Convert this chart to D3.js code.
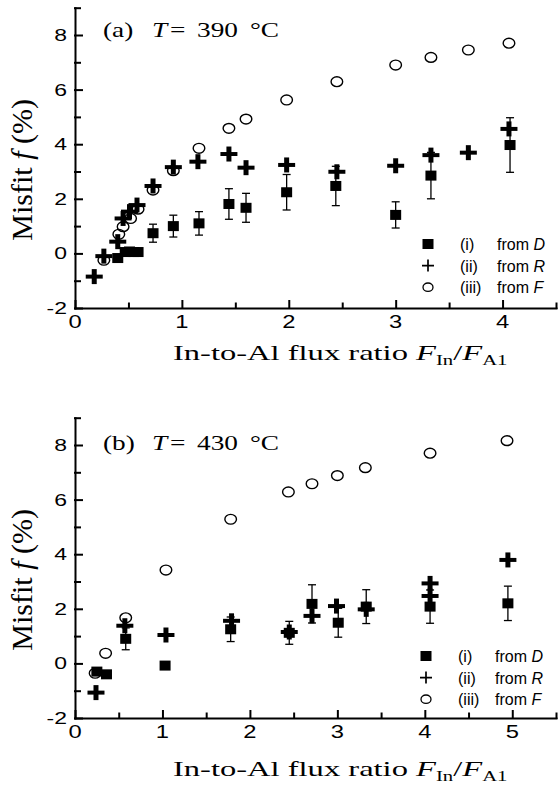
<!DOCTYPE html>
<html>
<head>
<meta charset="utf-8">
<script src="https://cdn.jsdelivr.net/npm/d3@7"></script>
<style>
  body { margin: 0; background: #fff; }
  svg { display: block; }
</style>
</head>
<body>
<div id="chart"></div>
<script>
// ---- data ----
const tickYLabels = [-2, 0, 2, 4, 6, 8];
const tickXLabelsA = [0, 1, 2, 3, 4];
const tickXLabelsB = [0, 1, 2, 3, 4, 5];

// panel (a), T = 390 C
const aDx = [0.40, 0.47, 0.51, 0.55, 0.59, 0.73, 0.92, 1.16, 1.44, 1.60, 1.98, 2.44, 3.00, 3.33, 4.07];
const aDy = [-0.17, 0.05, 0.07, 0.05, 0.05, 0.74, 1.00, 1.10, 1.81, 1.67, 2.24, 2.47, 1.41, 2.85, 3.97];
const aDerr = [0, 0, 0, 0, 0, 0.33, 0.40, 0.43, 0.56, 0.53, 0.65, 0.72, 0.48, 0.85, 1.00];
const aRx = [0.18, 0.27, 0.40, 0.45, 0.51, 0.58, 0.73, 0.92, 1.15, 1.44, 1.60, 1.98, 2.45, 3.00, 3.33, 3.68, 4.06];
const aRy = [-0.85, -0.10, 0.43, 1.28, 1.53, 1.77, 2.47, 3.16, 3.36, 3.64, 3.14, 3.24, 2.99, 3.21, 3.60, 3.69, 4.56];
const aFx = [0.27, 0.41, 0.45, 0.52, 0.59, 0.73, 0.92, 1.16, 1.44, 1.60, 1.98, 2.45, 3.00, 3.33, 3.68, 4.06];
const aFy = [-0.25, 0.70, 0.98, 1.28, 1.62, 2.32, 3.03, 3.85, 4.58, 4.92, 5.62, 6.29, 6.90, 7.18, 7.45, 7.70];

// panel (b), T = 430 C
const bDx = [0.25, 0.36, 0.58, 1.03, 1.78, 2.45, 2.71, 3.01, 3.33, 4.06, 4.95];
const bDy = [-0.30, -0.40, 0.90, -0.08, 1.25, 1.12, 2.18, 1.49, 2.08, 2.08, 2.20];
const bDerr = [0, 0, 0.40, 0, 0.45, 0.42, 0.70, 0.53, 0.62, 0.61, 0.63];
const bRx = [0.24, 0.57, 1.04, 1.79, 2.45, 2.71, 2.99, 3.33, 4.06, 4.06, 4.95];
const bRy = [-1.07, 1.38, 1.04, 1.56, 1.15, 1.74, 2.10, 1.98, 2.93, 2.47, 3.79];
const bFx = [0.23, 0.35, 0.58, 1.04, 1.78, 2.44, 2.71, 3.00, 3.32, 4.06, 4.94];
const bFy = [-0.36, 0.37, 1.67, 3.42, 5.28, 6.28, 6.58, 6.88, 7.17, 7.70, 8.16];

const legendTags = ['(i)', '(ii)', '(iii)'];
const legendVars = ['D', 'R', 'F'];

// ---- drawing ----
const width = 559;
const height = 789;
const SANS = '"Liberation Sans", Arial, sans-serif';
const SERIF = '"Liberation Serif", "Times New Roman", serif';

const svg = d3.select('#chart')
  .append('svg')
  .attr('width', width)
  .attr('height', height);

const zip = (xs, ys, es) => xs.map((v, i) => ({ x: v, y: ys[i], e: es ? es[i] : 0 }));

function drawPanel(p) {
  const x = d3.scaleLinear().domain([0, p.xMax]).range([75, 556]);
  const y = d3.scaleLinear().domain([-2, 9]).range([p.y0, p.y1]);
  const g = svg.append('g');

  // minor + major ticks, pointing inward
  const xMinor = g.append('g').attr('transform', `translate(0,${p.y0})`)
    .call(d3.axisBottom(x).tickValues(d3.range(0.5, p.xMax + 0.01, 1)).tickSize(-4.5).tickFormat(''));
  xMinor.select('.domain').remove();
  g.append('g').attr('transform', `translate(0,${p.y0})`)
    .call(d3.axisBottom(x).tickValues(p.xTicks).tickSizeInner(-7).tickSizeOuter(0).tickFormat(''));

  const yMinor = g.append('g').attr('transform', 'translate(75,0)')
    .call(d3.axisLeft(y).tickValues(d3.range(-1, 9.01, 2)).tickSize(-5).tickFormat(''));
  yMinor.select('.domain').remove();
  g.append('g').attr('transform', 'translate(75,0)')
    .call(d3.axisLeft(y).tickValues(tickYLabels).tickSizeInner(-7).tickSizeOuter(0).tickFormat(''));

  g.selectAll('line, path.domain')
    .attr('stroke', '#000')
    .attr('stroke-width', 2)
    .attr('stroke-linecap', 'square');

  // tick labels
  g.selectAll('.xlab').data(p.xTicks).join('text')
    .attr('transform', d => `translate(${x(d)},${p.y0 + 20}) scale(1.25,1)`)
    .attr('text-anchor', 'middle')
    .style('font', `19px ${SANS}`)
    .text(d => d);

  g.selectAll('.ylab').data(tickYLabels).join('text')
    .attr('transform', d => `translate(67,${y(d) + 6}) scale(1.35,1)`)
    .attr('text-anchor', 'end')
    .style('font', `17px ${SANS}`)
    .text(d => d);

  // series F: open circles
  g.append('g').selectAll('ellipse').data(zip(p.Fx, p.Fy)).join('ellipse')
    .attr('cx', d => x(d.x)).attr('cy', d => y(d.y))
    .attr('rx', 5.8).attr('ry', 4.9)
    .attr('fill', 'none').attr('stroke', '#000').attr('stroke-width', 1.4);

  // series D: squares with error bars
  const dPts = zip(p.Dx, p.Dy, p.Derr);
  const eb = g.append('g').attr('stroke', '#000').attr('stroke-width', 1.3);
  dPts.filter(d => d.e > 0).forEach(d => {
    const cx = x(d.x), top = y(d.y + d.e), bot = y(d.y - d.e);
    eb.append('line').attr('x1', cx).attr('x2', cx).attr('y1', top).attr('y2', bot);
    eb.append('line').attr('x1', cx - 4).attr('x2', cx + 4).attr('y1', top).attr('y2', top);
    eb.append('line').attr('x1', cx - 4).attr('x2', cx + 4).attr('y1', bot).attr('y2', bot);
  });
  g.append('g').selectAll('rect').data(dPts).join('rect')
    .attr('x', d => x(d.x) - 5.5).attr('y', d => y(d.y) - 5)
    .attr('width', 11).attr('height', 10)
    .attr('fill', '#000');

  // series R: bold plus
  const plus = g.append('g').attr('stroke', '#000');
  zip(p.Rx, p.Ry).forEach(d => {
    const cx = x(d.x), cy = y(d.y);
    plus.append('line').attr('x1', cx - 8.5).attr('x2', cx + 8.5).attr('y1', cy).attr('y2', cy).attr('stroke-width', 4);
    plus.append('line').attr('x1', cx).attr('x2', cx).attr('y1', cy - 7.5).attr('y2', cy + 7.5).attr('stroke-width', 5);
  });

  // legend
  const leg = g.append('g');
  legendTags.forEach((t, i) => {
    const ly = p.legY + i * 21.6;
    if (i === 0) {
      leg.append('rect').attr('x', p.legX - 5.5).attr('y', ly - 5).attr('width', 11).attr('height', 10).attr('fill', '#000');
    } else if (i === 1) {
      leg.append('path').attr('d', `M${p.legX - 6},${ly}H${p.legX + 6}M${p.legX},${ly - 6}V${ly + 6}`)
        .attr('stroke', '#000').attr('stroke-width', 1.7);
    } else {
      leg.append('ellipse').attr('cx', p.legX).attr('cy', ly).attr('rx', 5).attr('ry', 4.2)
        .attr('fill', 'none').attr('stroke', '#000').attr('stroke-width', 1.3);
    }
    leg.append('text').attr('x', p.legX + 32).attr('y', ly + 6)
      .style('font', `16px ${SANS}`).text(t);
    const ft = leg.append('text').attr('x', p.legX + 69).attr('y', ly + 6)
      .style('font', `16px ${SANS}`).text('from ');
    ft.append('tspan').style('font-style', 'italic').text(legendVars[i]);
  });

  // panel title
  const tt = g.append('text')
    .attr('transform', `translate(103,${p.titleY}) scale(1.3,1)`)
    .style('font', `21px ${SERIF}`);
  tt.append('tspan').attr('x', 0).text(p.tag);
  tt.append('tspan').attr('x', 37.7).style('font-style', 'italic').text('T');
  tt.append('tspan').attr('x', 51.5).text('=');
  tt.append('tspan').attr('x', 72.3).text(p.temp);
  tt.append('tspan').attr('x', 113).text('\u00B0C');

  // x title
  const xt = g.append('text')
    .attr('transform', `translate(173,${p.y0 + p.xTitleDy}) scale(1.48,1)`)
    .style('font', `22px ${SERIF}`);
  xt.append('tspan').text('In-to-Al flux ratio ');
  xt.append('tspan').style('font-style', 'italic').text('F');
  xt.append('tspan').attr('dy', 5).style('font-size', '14px').text('In');
  xt.append('tspan').attr('dy', -5).text('/');
  xt.append('tspan').style('font-style', 'italic').text('F');
  xt.append('tspan').attr('dy', 5).style('font-size', '14px').text('A1');

  // y title
  const cy = (p.y0 + p.y1) / 2 + 12;
  const yt = g.append('text')
    .attr('transform', `translate(32,${cy}) rotate(-90) scale(1,1.35)`)
    .attr('text-anchor', 'middle')
    .attr('textLength', 142)
    .attr('lengthAdjust', 'spacingAndGlyphs')
    .style('font', `22px ${SERIF}`);
  yt.append('tspan').text('Misfit ');
  yt.append('tspan').style('font-style', 'italic').text('f');
  yt.append('tspan').text(' (%)');
}

drawPanel({
  xMax: 4.5, y0: 308, y1: 7.7, xTicks: tickXLabelsA,
  Dx: aDx, Dy: aDy, Derr: aDerr, Rx: aRx, Ry: aRy, Fx: aFx, Fy: aFy,
  legX: 428, legY: 244, titleY: 37, tag: '(a)', temp: '390', xTitleDy: 52
});

drawPanel({
  xMax: 5.5, y0: 718, y1: 417.7, xTicks: tickXLabelsB,
  Dx: bDx, Dy: bDy, Derr: bDerr, Rx: bRx, Ry: bRy, Fx: bFx, Fy: bFy,
  legX: 426, legY: 656, titleY: 450, tag: '(b)', temp: '430', xTitleDy: 58
});
</script>
</body>
</html>
